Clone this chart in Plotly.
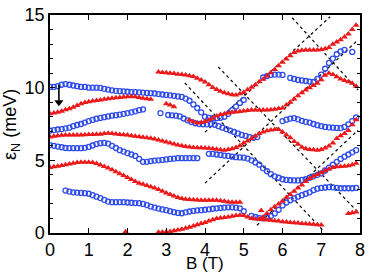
import plotly.graph_objects as go

STEP = 0.1

# ---------------- blue (open circles) series: start field (T) + energies (meV) every 0.1 T
blue_a_b0 = 0.0
blue_a_e = [10.05, 10.05, 10.1, 10.2, 10.25, 10.2, 10.15, 10.1, 10.05, 10.05,
            10.0, 10.0, 10.0, 9.98, 9.92, 9.87, 9.82, 9.78, 9.76, 9.74,
            9.72, 9.7, 9.7, 9.68, 9.66, 9.64, 9.62, 9.6, 9.56, 9.53,
            9.5, 9.47, 9.44, 9.4, 9.36, 9.25, 9.1, 8.85, 8.6, 8.3,
            8.0, 7.92, 7.9, 7.9, 7.93, 8.0, 8.2, 8.45, 8.7, 8.95, 9.15,
            None, None, None, None, 10.7, 10.8, 10.88, 10.9, 10.9, 10.88]

blue_b_b0 = 0.0
blue_b_e = [7.05, 7.08, 7.12, 7.15, 7.2, 7.25, 7.35, 7.43, 7.5, 7.6,
            7.7, 7.78, 7.86, 7.92, 7.97, 8.02, 8.07, 8.11, 8.15, 8.2,
            8.25, 8.3, 8.37, 8.45, 8.5]

blue_c_b0 = 2.85
blue_c_e = [8.25, None, 8.12, 8.1, 8.07, 8.02, 7.88, 7.75, 7.63, 7.55,
            7.5, 7.48, 7.48, 7.5, 7.45, 7.35, 7.25, 7.15, 7.05, 6.95,
            6.85, 6.75, 6.68, 6.6, 6.55, 6.6]

blue_d_b0 = 0.0
blue_d_e = [6.05, 6.0, 5.95, 5.9, 5.85, 5.84, 5.84, 5.84, 5.84, 5.86,
            5.92, 6.02, 6.12, 6.18, 6.2, 6.15, 6.0, 5.85, 5.7, 5.6,
            5.5, 5.4, 5.3, 5.1, 4.9, 4.9, 4.95, 4.98, 5.0, 5.03,
            5.06, 5.1, 5.12, 5.15, 5.15, 5.15, 5.15, 5.15, 5.15, None,
            None, 5.45, 5.45, 5.4, 5.37, 5.33, 5.3, 5.25, 5.22, 5.2,
            5.18, 5.12, 5.0, 4.85, 4.7, 4.45, 4.25, 4.05, 3.9, 3.8,
            3.7, 3.65, 3.63, 3.62, 3.62, 3.65, 3.7, 3.8, 3.9, 4.0,
            4.1, 4.3, 4.5, 4.7, 4.9, 5.1, 5.25, 5.4, 5.55, 5.7]

blue_e_b0 = 6.0
blue_e_e = [7.7, 7.8, 7.87, 7.9, 7.82, 7.72, 7.65, 7.6, 7.5, 7.42,
            7.36, 7.3, 7.27, 7.25, 7.23, 7.22, 7.3, 7.48, 7.7, 7.95]

blue_f_b0 = 0.4
blue_f_e = [2.92, 2.85, 2.8, 2.78, 2.76, 2.74, 2.7, 2.6, 2.5, 2.4,
            2.28, 2.16, 2.12, 2.12, 2.12, 2.12, 2.1, 2.08, 2.06, 2.05,
            2.0, 1.92, 1.82, 1.75, 1.68, 1.62, 1.57, 1.5, 1.43, 1.38,
            1.36, 1.42, 1.48, 1.52, 1.55, 1.57, 1.6, 1.63, 1.67, 1.7,
            1.72, 1.75, 1.77, 1.77, 1.74, 1.7, 1.5, None, 1.18, 1.1,
            1.03, 1.01, 1.08, 1.17, 1.35, 1.6, 1.9, 2.1, 2.25, 2.38,
            2.5, 2.6, 2.7, 2.8, 2.95, 3.05, 3.1, 3.13, 3.15, 3.14,
            3.1, 3.08, 3.08, 3.08, 3.08, 3.1]

blue_g_b0 = 6.2
blue_g_e = [10.67, 10.6, 10.53, 10.5, 10.46, 10.42, 10.39, 10.6, 10.9, 11.3,
            11.7, 12.0, 12.3, 12.5, 12.6, None, 12.46]

# ---------------- red (triangles) series
red_a_b0 = 0.0
red_a_e = [8.2, 8.25, 8.3, 8.38, 8.48, 8.55, 8.65, 8.78, 8.9, 8.98,
           9.03, 9.08, 9.12, 9.15, 9.2, 9.23, 9.27, 9.3, 9.33, 9.36,
           9.38, 9.4, 9.38, 9.33, 9.28, 9.24, 9.2]

red_b_b0 = 2.8
red_b_e = [11.08, 11.05, 11.02, 11.0, 10.97, 10.93, 10.9, 10.87, 10.82, 10.76,
           10.65, 10.52, 10.39, 10.2, 10.02, 9.87, 9.75, 9.65, 9.58, 9.52,
           9.5, 9.58, 9.68, 9.85, 10.03, 10.2, 10.4, 10.58, 10.8, 11.02,
           11.25, 11.5, 11.75, 11.98, 12.2, 12.42, 12.52, 12.58, 12.6, 12.6,
           12.6, 12.6, 12.62, 12.68, 12.77, 12.98, 13.15, 13.3, 13.48, 13.7,
           14.0, 14.3]

red_c_b0 = 3.0
red_c_e = [8.9, 8.8, 8.68]

red_d_b0 = 3.6
red_d_e = [7.77, 7.65, 7.57, 7.6, 7.68, 7.77, 7.9, 8.05, 8.15, 8.2,
           8.25, 8.3, 8.33, 8.36, 8.4, 8.43, 8.46, 8.46, 8.46, 8.46,
           8.46, 8.48, 8.52, 8.56, 8.6, 8.8, 9.0, 9.22, 9.45, 9.65,
           9.84, 10.0, 10.15, 10.3, 10.55, 10.85, 11.0, 10.9, 10.75, 10.6,
           10.5, 10.4, 10.3, 10.1]

red_e_b0 = 0.0
red_e_e = [6.6, 6.65, 6.7, 6.73, 6.74, 6.74, 6.74, 6.74, 6.74, 6.76,
           6.77, 6.78, 6.79, 6.8, 6.85, 6.87, 6.85, 6.82, 6.78, 6.76,
           6.74, 6.7, 6.66, 6.62, 6.58, 6.55, 6.52, 6.46, 6.4, 6.33,
           6.26, 6.19, 6.12, 6.06, 6.0, 5.95, 5.91, 5.89, 5.87, 5.86,
           5.85, 5.84, 5.8, 5.76, 5.72, 5.7, 5.74, 5.8, 5.88, 6.0,
           6.2, 6.33, 6.5, 6.68, 6.85, 6.95, 7.03, 7.09, 7.13, 7.12,
           6.95, 6.75, 6.55, 6.3, 6.1, 5.9, 5.8, 5.75, 5.72, 5.7,
           5.75, 5.85, 5.98, 6.2, 6.5, 6.7, 6.85, 7.05, 7.45, 7.8]

red_f_b0 = 0.0
red_f_e = [4.5, 4.55, 4.6, 4.65, 4.7, 4.75, 4.8, 4.85, 4.86, 4.87,
           4.87, 4.85, 4.78, 4.68, 4.57, 4.47, 4.35, 4.22, 4.08, 3.95,
           3.82, 3.68, 3.55, 3.42, 3.35, 3.27, 3.18, 3.1, 3.0, 2.88,
           2.76, 2.65, 2.55, 2.45, 2.38, 2.33, 2.3, 2.28, 2.27, 2.26,
           2.26, 2.26, 2.26, 2.25, 2.22, 2.18, 2.14, 2.12, 2.12, 2.12]

red_g_b0 = 2.8
red_g_e = [0.05, 0.06, 0.08, 0.1, 0.15, 0.2, 0.25, 0.32, 0.4, 0.48,
           0.56, 0.65, 0.72, 0.82, 0.92, 1.0, 1.04, 1.07, 1.1, 1.15,
           1.2, 1.22, 1.2, 1.1, 1.0, 0.97, 0.95, 0.93, 0.9, 0.88,
           0.85, 0.82, 0.78, 0.75, 0.72, 0.7, 0.68, 0.66, 0.64, 0.62,
           0.6, 0.56, 0.55]

red_h_b0 = 5.5
red_h_e = [1.1, 1.35, 1.6, 1.8, 2.0, 2.2, 2.45, 2.65, 2.88, 3.1,
           3.3, 3.55, 3.75, 3.9, 4.02, 4.15, 4.28, 4.4, 4.5, 4.55,
           4.58, 4.6, 4.63, 4.7, 4.8]

red_i_b0 = 7.7
red_i_e = [1.35, 1.4, 1.45]

red_single_b = [1.95, 5.45]
red_single_e = [0.08, 1.55]

# ---------------- dotted guide lines: (B start, E start, B end, E end)
guide_b0 = [3.48, 4.34, 6.25, 4.0, 4.0, 5.34]
guide_e0 = [10.32, 11.43, 14.81, 6.94, 3.43, 0.53]
guide_b1 = [7.04, 7.95, 7.95, 7.23, 7.95, 7.95]
guide_e1 = [0.19, 1.43, 9.84, 14.88, 13.29, 7.08]

# arrow: B position, tail energy, head energy
arrow_b = 0.23
arrow_e_tail = 10.2
arrow_e_head = 8.8

x_title = "B (T)"
y_title = "ε<sub>N</sub> (meV)"

BLUE = "rgb(45,75,235)"
RED = "rgb(235,25,25)"


def grid(b0, vals):
    return [round(b0 + STEP * i, 3) for i in range(len(vals))]


fig = go.Figure()

for b0, e0, b1, e1 in zip(guide_b0, guide_e0, guide_b1, guide_e1):
    fig.add_trace(go.Scatter(x=[b0, b1], y=[e0, e1], mode="lines",
                             line=dict(color="black", width=1.2, dash="dot"),
                             hoverinfo="skip"))

for b0, vals in [(blue_a_b0, blue_a_e), (blue_b_b0, blue_b_e), (blue_c_b0, blue_c_e),
                 (blue_d_b0, blue_d_e), (blue_e_b0, blue_e_e), (blue_f_b0, blue_f_e),
                 (blue_g_b0, blue_g_e)]:
    fig.add_trace(go.Scatter(x=grid(b0, vals), y=vals, mode="markers",
                             marker=dict(symbol="circle-open", size=5, color=BLUE,
                                         line=dict(width=1.3, color=BLUE))))

for b0, vals in [(red_a_b0, red_a_e), (red_b_b0, red_b_e), (red_c_b0, red_c_e),
                 (red_d_b0, red_d_e), (red_e_b0, red_e_e), (red_f_b0, red_f_e),
                 (red_g_b0, red_g_e), (red_h_b0, red_h_e), (red_i_b0, red_i_e)]:
    fig.add_trace(go.Scatter(x=grid(b0, vals), y=vals, mode="markers",
                             marker=dict(symbol="triangle-up", size=6, color=RED,
                                         line=dict(width=0))))

fig.add_trace(go.Scatter(x=red_single_b, y=red_single_e, mode="markers",
                         marker=dict(symbol="triangle-up", size=6, color=RED, line=dict(width=0))))

# arrow drawn as a line plus a triangular head
fig.add_trace(go.Scatter(x=[arrow_b, arrow_b], y=[arrow_e_tail, arrow_e_head + 0.3],
                         mode="lines", line=dict(color="black", width=1.6)))
fig.add_trace(go.Scatter(x=[arrow_b], y=[arrow_e_head + 0.2], mode="markers",
                         marker=dict(symbol="triangle-down", size=8, color="black",
                                     line=dict(width=0))))

axis_common = dict(showline=True, linecolor="black", linewidth=1.5, mirror="allticks",
                   ticks="inside", tickcolor="black", tickwidth=1, ticklen=5,
                   showgrid=False, zeroline=False, automargin=False,
                   tickfont=dict(size=18, color="black"))

fig.update_xaxes(range=[0, 8], tick0=0, dtick=1, **axis_common)
fig.update_yaxes(range=[0, 15], tick0=0, dtick=5,
                 minor=dict(dtick=1, ticks="inside", ticklen=3, tickcolor="black"),
                 **axis_common)

fig.add_annotation(text=x_title, xref="paper", yref="paper", x=0.5, y=-0.192,
                   xanchor="center", yanchor="bottom", showarrow=False,
                   font=dict(size=17, color="black"))
fig.add_annotation(text=y_title, xref="paper", yref="paper", x=-0.126, y=0.5,
                   xanchor="center", yanchor="middle", showarrow=False, textangle=-90,
                   font=dict(size=18, color="black"))

fig.update_layout(width=375, height=275,
                  margin=dict(l=50, r=15, t=15, b=42.3, autoexpand=False),
                  plot_bgcolor="white", paper_bgcolor="white",
                  showlegend=False,
                  font=dict(family="Arial, Liberation Sans, sans-serif", size=18, color="black"))

fig.write_html("out.html", config={"displayModeBar": False},
               post_script="document.body.style.margin='0px';document.body.style.padding='0px';")
